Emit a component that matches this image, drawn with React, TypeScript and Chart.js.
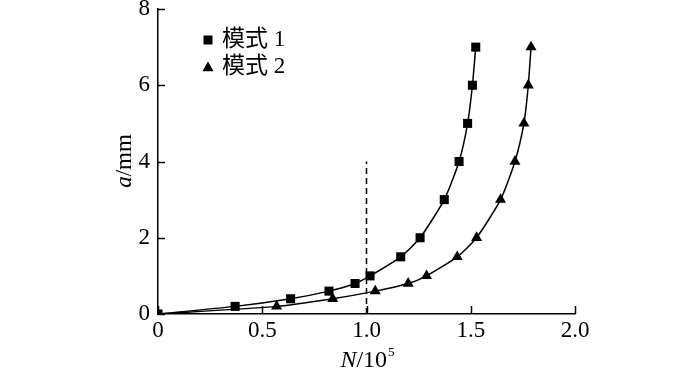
import React, { useEffect, useRef } from 'react';
import { Chart, registerables } from 'chart.js';
Chart.register(...registerables);

const mode1N = [0, 0.37, 0.636, 0.82, 0.945, 1.017, 1.164, 1.257, 1.373, 1.444, 1.485, 1.508, 1.524];
const mode1A = [0, 0.2, 0.4, 0.6, 0.8, 1.0, 1.5, 2, 3, 4, 5, 6, 7];
const mode2N = [0, 0.569, 0.838, 1.042, 1.2, 1.288, 1.435, 1.528, 1.643, 1.712, 1.755, 1.776, 1.789];
const mode2A = [0, 0.2, 0.4, 0.6, 0.8, 1.0, 1.5, 2, 3, 4, 5, 6, 7];
const dashN = [1.0, 1.0];
const dashA = [0, 4];
const seriesNames = ['模式 1', '模式 2'];
const xTicks = [0, 0.5, 1.0, 1.5, 2.0];
const yTicks = [0, 2, 4, 6, 8];

const SERIF = "'Liberation Serif', 'Times New Roman', 'Noto Sans CJK SC', serif";

const zip = (xs: number[], ys: number[]) => xs.map((x, i) => ({ x, y: ys[i] }));

const decorPlugin = {
  id: 'decor',
  afterDraw(chart: any) {
    const ctx = chart.ctx as CanvasRenderingContext2D;
    const xs = chart.scales.x;
    const ys = chart.scales.y;
    const { left, bottom } = chart.chartArea;
    ctx.save();
    ctx.strokeStyle = '#000';
    ctx.lineWidth = 1.5;
    xTicks.forEach((v) => {
      const px = Math.round(xs.getPixelForValue(v)) + 0.5;
      ctx.beginPath();
      ctx.moveTo(px, bottom);
      ctx.lineTo(px, bottom - 8);
      ctx.stroke();
    });
    yTicks.forEach((v) => {
      const py = Math.round(ys.getPixelForValue(v)) + 0.5;
      ctx.beginPath();
      ctx.moveTo(left, py);
      ctx.lineTo(left + 7, py);
      ctx.stroke();
    });
    // legend
    const legendX = 208;
    const legendY = [40, 67];
    const styles = ['rect', 'triangle'];
    ctx.fillStyle = '#000';
    styles.forEach((s, i) => {
      ctx.beginPath();
      if (s === 'rect') {
        ctx.fillRect(legendX - 4.5, legendY[i] - 4.5, 9, 9);
      } else {
        const r = 6.4;
        const cy = legendY[i] + 1;
        ctx.moveTo(legendX, cy - r);
        ctx.lineTo(legendX + r * 0.866, cy + r * 0.5);
        ctx.lineTo(legendX - r * 0.866, cy + r * 0.5);
        ctx.closePath();
        ctx.fill();
      }
      ctx.font = `23px ${SERIF}`;
      ctx.textBaseline = 'middle';
      ctx.textAlign = 'left';
      ctx.fillText(seriesNames[i], 222, legendY[i]);
    });
    // y title: a/mm rotated
    ctx.save();
    ctx.translate(131, 161);
    ctx.rotate(-Math.PI / 2);
    ctx.textBaseline = 'alphabetic';
    ctx.font = `italic 23px ${SERIF}`;
    const aW = ctx.measureText('a').width;
    ctx.font = `23px ${SERIF}`;
    const restW = ctx.measureText('/mm').width;
    const sx = -(aW + restW) / 2;
    ctx.font = `italic 23px ${SERIF}`;
    ctx.fillText('a', sx, 0);
    ctx.font = `23px ${SERIF}`;
    ctx.fillText('/mm', sx + aW, 0);
    ctx.restore();
    // x title: N/10^5
    ctx.textBaseline = 'alphabetic';
    ctx.textAlign = 'left';
    ctx.font = `italic 24px ${SERIF}`;
    const nW = ctx.measureText('N').width;
    ctx.font = `24px ${SERIF}`;
    const tW = ctx.measureText('/10').width;
    ctx.font = `13px ${SERIF}`;
    const fW = ctx.measureText('5').width;
    const tx = 367 - (nW + tW + fW) / 2;
    const base = 367;
    ctx.font = `italic 24px ${SERIF}`;
    ctx.fillText('N', tx, base);
    ctx.font = `24px ${SERIF}`;
    ctx.fillText('/10', tx + nW, base);
    ctx.font = `13px ${SERIF}`;
    ctx.fillText('5', tx + nW + tW + 1, base - 11);
    ctx.restore();
  },
};

export default function App() {
  const ref = useRef<HTMLCanvasElement>(null);
  useEffect(() => {
    if (!ref.current) return;
    const pointCommon = {
      borderColor: '#000',
      backgroundColor: '#000',
      borderWidth: 1.5,
      pointRadius: 6.4,
      pointHoverRadius: 6.4,
      pointBorderWidth: 0,
      tension: 0.2,
      showLine: true,
      fill: false,
    };
    const chart = new Chart(ref.current, {
      type: 'scatter',
      data: {
        datasets: [
          { ...pointCommon, label: seriesNames[0], data: zip(mode1N, mode1A), pointStyle: 'rect' },
          { ...pointCommon, label: seriesNames[1], data: zip(mode2N, mode2A), pointStyle: 'triangle' },
          {
            label: 'dash',
            data: zip(dashN, dashA),
            showLine: true,
            borderColor: '#000',
            borderWidth: 1.5,
            borderDash: [6, 4],
            pointRadius: 0,
            tension: 0,
          },
        ],
      },
      options: {
        animation: false,
        responsive: false,
        devicePixelRatio: 1,
        layout: { padding: { top: 9, right: 125, left: 0, bottom: 0 } },
        plugins: { legend: { display: false }, tooltip: { enabled: false } },
        scales: {
          x: {
            type: 'linear',
            min: 0,
            max: 2,
            afterBuildTicks: (s: any) => { s.ticks = xTicks.map((v) => ({ value: v })); },
            afterFit: (s: any) => { s.height = 58; s.paddingLeft = 0; s.paddingRight = 0; },
            ticks: {
              color: '#000',
              padding: 3,
              maxRotation: 0,
              font: { family: SERIF, size: 23 },
              callback: (v: any) => (Number(v) === 0 ? '0' : Number(v).toFixed(1)),
            },
            grid: { display: true, drawOnChartArea: false, drawTicks: false },
            border: { display: true, color: '#000', width: 1.5 },
          },
          y: {
            type: 'linear',
            min: 0,
            max: 8,
            afterBuildTicks: (s: any) => { s.ticks = yTicks.map((v) => ({ value: v })); },
            afterFit: (s: any) => { s.width = 158; s.paddingTop = 0; s.paddingBottom = 0; },
            ticks: {
              color: '#000',
              padding: 8,
              font: { family: SERIF, size: 23 },
              callback: (v: any) => String(v),
            },
            grid: { display: true, drawOnChartArea: false, drawTicks: false },
            border: { display: true, color: '#000', width: 1.5 },
          },
        },
      },
      plugins: [decorPlugin],
    } as any);
    return () => chart.destroy();
  }, []);
  return (
    <div style={{ position: 'fixed', left: 0, top: 0, width: 700, height: 372, background: '#fff' }}>
      <canvas ref={ref} width={700} height={372} style={{ width: 700, height: 372 }} />
    </div>
  );
}
